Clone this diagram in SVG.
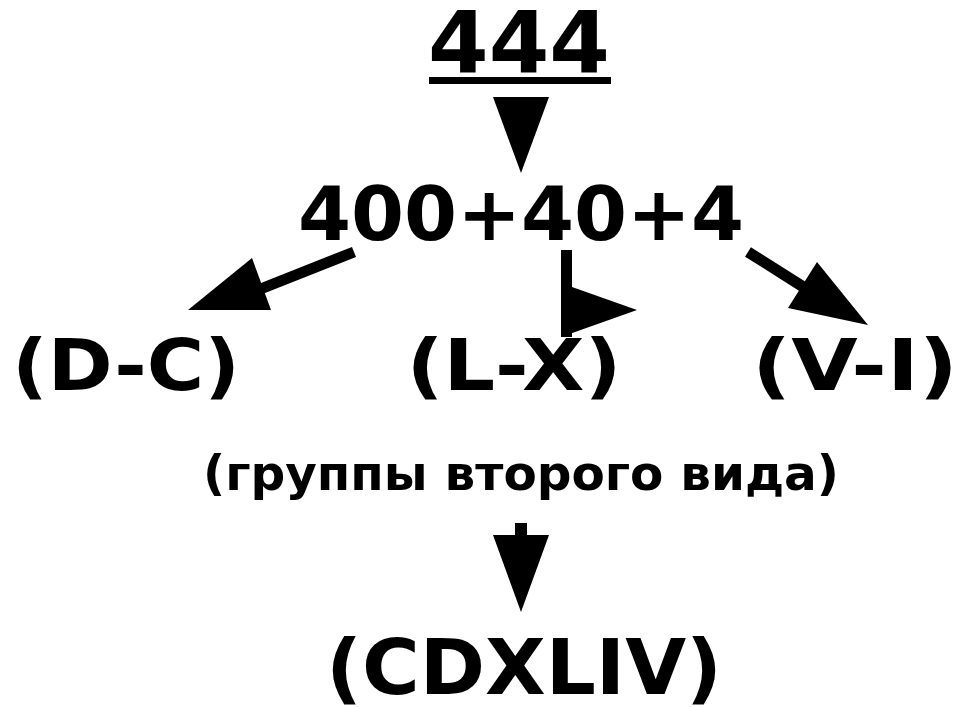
<svg xmlns="http://www.w3.org/2000/svg" width="963" height="707" viewBox="0 0 963 707">
<style>
.t{font-family:"DejaVu Sans","Verdana",sans-serif;font-weight:bold;fill:#000;text-anchor:middle}
.ln{stroke:#000;stroke-width:11;fill:none}
.hd{fill:#000}
</style>
<rect width="963" height="707" fill="#fff"/>
<g id="n444"><text class="t" x="519" y="72" font-size="86" textLength="182" lengthAdjust="spacingAndGlyphs">444</text><rect x="429" y="77" width="182" height="7" fill="#000"/></g>
<g id="nsum"><text class="t" x="521" y="240" font-size="75" textLength="446" lengthAdjust="spacingAndGlyphs">400+40+4</text></g>
<g id="ndc"><text class="t" x="126" y="390" font-size="71" textLength="228" lengthAdjust="spacingAndGlyphs">(D-C)</text></g>
<g id="nlx"><text class="t" x="514" y="390" font-size="71" textLength="215" lengthAdjust="spacingAndGlyphs">(L-X)</text></g>
<g id="nvi"><text class="t" x="855" y="390" font-size="71" textLength="206" lengthAdjust="spacingAndGlyphs">(V-I)</text></g>
<g id="ngroup"><text class="t" x="521" y="490" font-size="48" textLength="636" lengthAdjust="spacingAndGlyphs">(группы второго вида)</text></g>
<g id="nres"><text class="t" x="524" y="694" font-size="77" textLength="396" lengthAdjust="spacingAndGlyphs">(CDXLIV)</text></g>
<g id="connectors">
<polygon class="hd" points="493,97 549,97 521,173"/>
<line class="ln" x1="354" y1="252" x2="258" y2="290"/>
<polygon class="hd" points="188,310 252,258 271,310"/>
<rect x="561" y="250" width="11" height="87" fill="#000"/>
<polygon class="hd" points="572,287 637,310 561,337"/>
<line class="ln" x1="748" y1="252" x2="805" y2="288"/>
<polygon class="hd" points="817,262 788,308 868,325"/>
<rect x="515" y="523" width="12" height="13" fill="#000"/>
<polygon class="hd" points="493,535 549,535 521,612"/>
</g>
</svg>
